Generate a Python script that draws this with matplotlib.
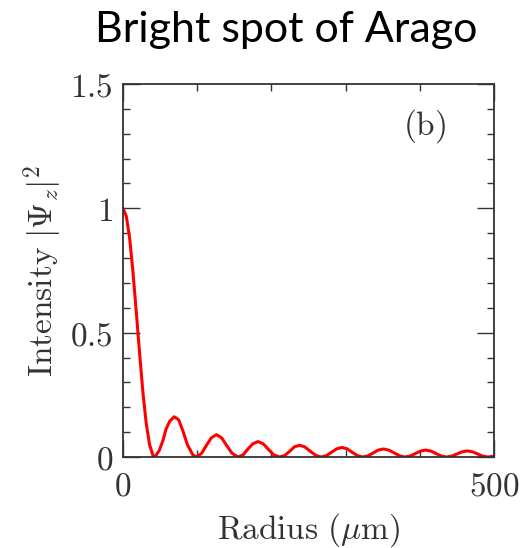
import matplotlib
matplotlib.use("Agg")
import matplotlib.pyplot as plt
import numpy as np

# radius (um) and intensity
radius = [0, 4.5, 9, 13.4, 17.9, 22.4, 26.8, 31.3, 35.8, 40.3, 43,
          49, 54, 58, 63, 69, 75, 81, 87, 90, 94, 99,
          106, 112, 119, 126, 133, 140, 147, 155,
          162, 168, 175, 182, 189, 196, 203, 211,
          218, 225, 231, 238, 245, 252, 260, 267,
          274, 281, 288, 295, 302, 309, 316, 323,
          330, 337, 344, 351, 358, 366, 373, 380,
          387, 394, 401, 408, 415, 422, 429, 436,
          443, 450, 457, 464, 471, 478, 485, 492, 500]
intensity = [1.0, 0.968, 0.880, 0.746, 0.585, 0.417, 0.262, 0.136, 0.050, 0.0066, 0.0,
             0.027, 0.068, 0.112, 0.144, 0.162, 0.150, 0.103, 0.048, 0.032, 0.009, 0.0,
             0.015, 0.045, 0.077, 0.090, 0.077, 0.045, 0.015, 0.0,
             0.0091, 0.031, 0.053, 0.0623, 0.053, 0.031, 0.0091, 0.0,
             0.0065, 0.024, 0.041, 0.0475, 0.041, 0.024, 0.0065, 0.0,
             0.0056, 0.019, 0.033, 0.0385, 0.033, 0.019, 0.0056, 0.0,
             0.0047, 0.016, 0.028, 0.0324, 0.028, 0.016, 0.0047, 0.0,
             0.0041, 0.014, 0.024, 0.028, 0.024, 0.014, 0.0041, 0.0,
             0.0036, 0.0123, 0.021, 0.0246, 0.021, 0.0123, 0.0036, 0.0, 0.0036]

xticks = [0, 500]
xminor = [100, 200, 300, 400]
yticks = [0, 0.5, 1, 1.5]
ytick_labels = ["0", "0.5", "1", "1.5"]

plt.rcParams["mathtext.fontset"] = "cm"
plt.rcParams["font.family"] = "serif"
plt.rcParams["font.serif"] = ["DejaVu Serif"]

gray = "#333333"
fs = 24
fig = plt.figure(figsize=(5.24, 5.48), dpi=100)
ax = fig.add_axes([0.2347, 0.166, 0.708, 0.6807])

ax.plot(radius, intensity, color="red", lw=2.2)
ax.set_xlim(0, 500)
ax.set_ylim(0, 1.5)

ax.set_xticks(xticks)
ax.set_xticklabels(["$%d$" % t for t in xticks])
ax.set_xticks(xminor, minor=True)
ax.set_yticks(yticks)
ax.set_yticklabels(["$%s$" % s for s in ytick_labels])
ax.set_yticks(np.arange(0.1, 1.5, 0.1), minor=True)

ax.tick_params(which="both", direction="in", top=True, right=True,
               color=gray, width=1.0, labelsize=fs, labelcolor=gray)
ax.tick_params(axis="x", which="major", length=12, pad=10)
ax.tick_params(axis="y", which="major", length=12, pad=7)
ax.tick_params(which="minor", length=5)
for s in ax.spines.values():
    s.set_color(gray)
    s.set_linewidth(1.3)

ax.set_xlabel(r"$\mathrm{Radius\ (\mu m)}$", fontsize=fs, color=gray, labelpad=6)
ax.set_ylabel(r"$\mathrm{Intensity}\ |\Psi_z|^2$", fontsize=fs, color=gray, labelpad=4)
ax.text(407, 1.33, r"$\mathrm{(b)}$", fontsize=fs, color=gray, ha="center", va="center")

fig.text(0.546, 0.945, "Bright spot of Arago", fontsize=31, family="Lato",
         ha="center", va="center", color="black")

fig.savefig("out.png", dpi=100)
